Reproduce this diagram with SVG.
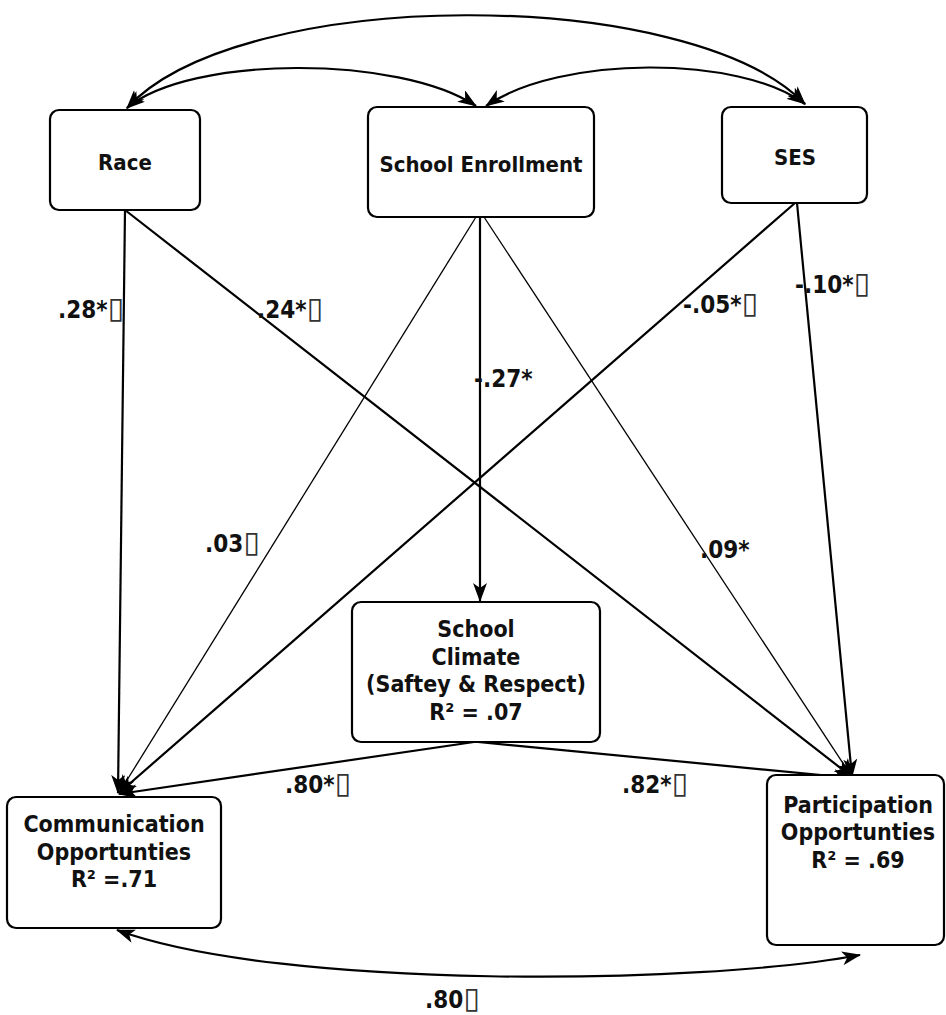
<svg xmlns="http://www.w3.org/2000/svg" width="946" height="1015" viewBox="0 0 946 1015">
<defs>
<marker id="ah" markerUnits="userSpaceOnUse" markerWidth="19" markerHeight="14" viewBox="0 0 19 14" refX="18" refY="7" orient="auto-start-reverse"><path d="M0,0 L19,7 L0,14 L5,7 z" fill="#000"/></marker>
</defs>
<style>
.box{fill:#fff;stroke:#000;stroke-width:2.2}
.t{font-family:"DejaVu Sans Condensed","DejaVu Sans",sans-serif;font-weight:bold;fill:#111;text-anchor:middle}
.top{font-size:22px}
.low{font-size:23px}
.lbl{font-family:"DejaVu Sans Condensed","DejaVu Sans",sans-serif;font-weight:bold;font-size:24px;fill:#111}
.tofu{font-family:"DejaVu Sans",sans-serif;font-weight:normal;font-size:30px;fill:#333}
.e{fill:none;stroke:#000;stroke-width:2.2}
.thin{stroke-width:1.3}
</style>
<rect width="946" height="1015" fill="#fff"/>
<g id="connectors">
<path class="e" d="M125,210 L118,793" marker-end="url(#ah)"/>
<path class="e" d="M125,210 L852,777" marker-end="url(#ah)"/>
<path class="e" d="M480,217 L480,601" marker-end="url(#ah)"/>
<path class="e thin" d="M476,217 L119,793" marker-end="url(#ah)"/>
<path class="e thin" d="M484,217 L852,777" marker-end="url(#ah)"/>
<path class="e" d="M795,203 L119,793" marker-end="url(#ah)"/>
<path class="e" d="M797,203 L852,777" marker-end="url(#ah)"/>
<path class="e" d="M474,742 L119,794" marker-end="url(#ah)"/>
<path class="e" d="M478,742 L852,778" marker-end="url(#ah)"/>
<path class="e" d="M127,108 C240,-15 690,-15 805,104" marker-start="url(#ah)" marker-end="url(#ah)"/>
<path class="e" d="M127,108 C190,55 400,55 476,106" marker-start="url(#ah)" marker-end="url(#ah)"/>
<path class="e" d="M486,106 C560,55 740,55 805,104" marker-start="url(#ah)" marker-end="url(#ah)"/>
<path class="e" d="M117,930 C280,990 700,985 860,955" marker-start="url(#ah)" marker-end="url(#ah)"/>
</g>
<g id="race">
<rect class="box" x="50" y="110" width="150" height="100" rx="9"/>
<text class="t top" x="125" y="170">Race</text>
</g>
<g id="enrollment">
<rect class="box" x="368" y="107" width="226" height="110" rx="9"/>
<text class="t top" x="481" y="172">School Enrollment</text>
</g>
<g id="ses">
<rect class="box" x="722" y="107" width="145" height="96" rx="9"/>
<text class="t top" x="795" y="165">SES</text>
</g>
<g id="climate">
<rect class="box" x="352" y="602" width="248" height="140" rx="9"/>
<text class="t low" x="476" y="637">School</text>
<text class="t low" x="476" y="665">Climate</text>
<text class="t low" x="476" y="692">(Saftey &amp; Respect)</text>
<text class="t low" x="476" y="720">R² = .07</text>
</g>
<g id="communication">
<rect class="box" x="7" y="797" width="214" height="131" rx="9"/>
<text class="t low" x="114" y="832">Communication</text>
<text class="t low" x="114" y="860">Opportunties</text>
<text class="t low" x="114" y="887">R² =.71</text>
</g>
<g id="participation">
<rect class="box" x="767" y="775" width="177" height="170" rx="9"/>
<text class="t low" x="858" y="813">Participation</text>
<text class="t low" x="858" y="840">Opportunties</text>
<text class="t low" x="858" y="868">R² = .69</text>
</g>
<g id="labels">
<text class="lbl" x="58" y="318">.28*<tspan class="tofu">▯</tspan></text>
<text class="lbl" x="257" y="318">.24*<tspan class="tofu">▯</tspan></text>
<text class="lbl" x="474" y="387">-.27*</text>
<text class="lbl" x="683" y="313">-.05*<tspan class="tofu">▯</tspan></text>
<text class="lbl" x="795" y="293">-.10*<tspan class="tofu">▯</tspan></text>
<text class="lbl" x="205" y="552">.03<tspan class="tofu">▯</tspan></text>
<text class="lbl" x="700" y="558">.09*</text>
<text class="lbl" x="285" y="793">.80*<tspan class="tofu">▯</tspan></text>
<text class="lbl" x="622" y="793">.82*<tspan class="tofu">▯</tspan></text>
<text class="lbl" x="425" y="1008">.80<tspan class="tofu">▯</tspan></text>
</g>
</svg>
